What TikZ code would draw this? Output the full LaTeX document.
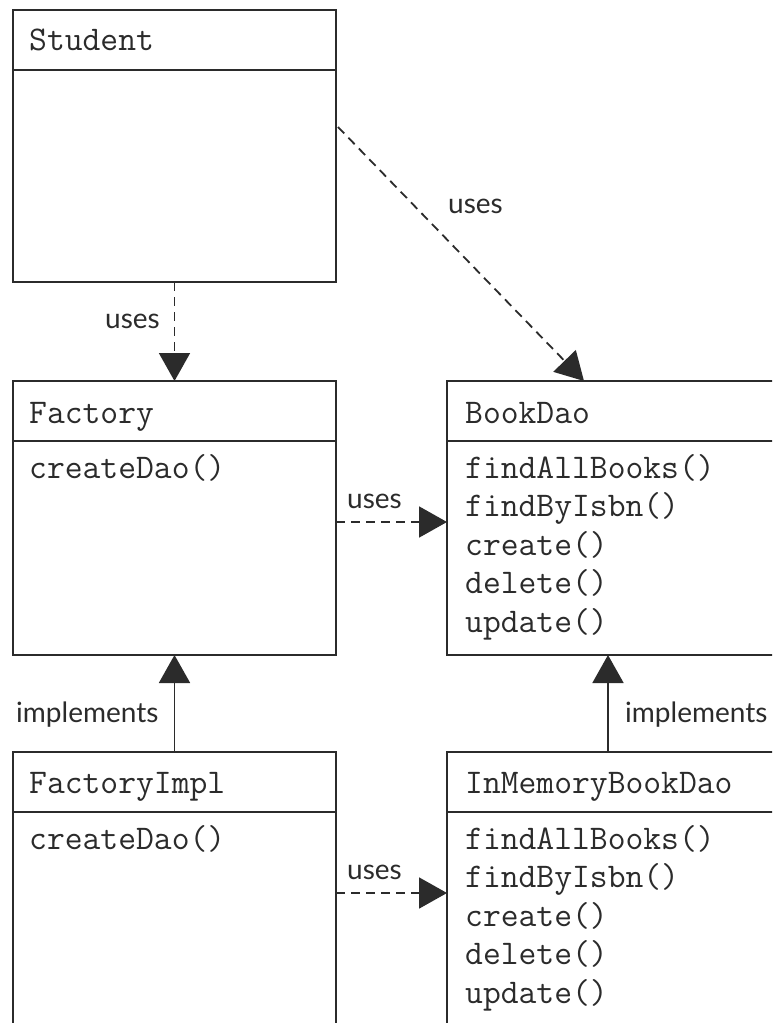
\documentclass[tikz,border=0pt]{standalone}
\usepackage{fontspec}
\newfontfamily\labelfont{Lato}
\usetikzlibrary{arrows.meta,calc}
\definecolor{ink}{HTML}{2B2B2B}
\begin{document}
\begin{tikzpicture}[x=1pt,y=-1pt,
  box/.style={draw=ink,line width=1.8pt,rectangle,inner sep=0pt,outer sep=0pt,anchor=north west},
  divider/.style={draw=ink,line width=1.8pt},
  code/.style={font=\ttfamily\fontsize{34.6}{38}\selectfont,text=ink,anchor=base west,inner sep=0pt},
  lbl/.style={font=\labelfont\fontsize{28}{32}\selectfont,text=ink,anchor=base west,inner sep=0pt},
  dep/.style={draw=ink,line width=1.8pt,dash pattern=on 9pt off 6pt,-{Triangle[length=28pt,width=31pt]}},
  impl/.style={draw=ink,line width=1.8pt,-{Triangle[length=28pt,width=31pt]}}]
\useasboundingbox (0,0) rectangle (772,1023);
\fill[white] (0,0) rectangle (772,1023);
\begin{scope}
\clip (0,0) rectangle (772,1023);
% boxes
\node[box,minimum width=323pt,minimum height=272pt] (student) at (13,10) {};
\node[box,minimum width=323pt,minimum height=274pt] (factory) at (13,381) {};
\node[box,minimum width=360pt,minimum height=274pt] (bookdao) at (447,381) {};
\node[box,minimum width=323pt,minimum height=300pt] (factoryimpl) at (13,752) {};
\node[box,minimum width=360pt,minimum height=300pt] (imbd) at (447,752) {};
% dividers
\draw[divider] ($(student.north west)+(0,60)$) -- ($(student.north east)+(0,60)$);
\draw[divider] ($(factory.north west)+(0,60)$) -- ($(factory.north east)+(0,60)$);
\draw[divider] ($(bookdao.north west)+(0,60)$) -- ($(bookdao.north east)+(0,60)$);
\draw[divider] ($(factoryimpl.north west)+(0,60)$) -- ($(factoryimpl.north east)+(0,60)$);
\draw[divider] ($(imbd.north west)+(0,60)$) -- ($(imbd.north east)+(0,60)$);
% headers
\node[code] (tstudent) at (29,50) {Student};
\node[code] (tfactory) at (29,423) {Factory};
\node[code] (tbookdao) at (465,423) {BookDao};
\node[code] (tfactoryimpl) at (29,793) {FactoryImpl};
\node[code] (timbd) at (465,793) {InMemoryBookDao};
% methods
\node[code] (fcreate) at (29,478) {createDao()};
\node[code] (ficreate) at (29,849) {createDao()};
\foreach \m [count=\i from 0] in {findAllBooks(),findByIsbn(),create(),delete(),update()} {
  \node[code] (bm\i) at (465,478+38.5*\i) {\m};
  \node[code] (im\i) at (465,849+38.5*\i) {\m};
}
% connector helper coordinates
\coordinate (dstart) at (338,127);
\coordinate (dend) at (584,381);
\coordinate (hy1) at (0,522);
\coordinate (hy2) at (0,893);
\coordinate (rx) at (608,0);
% connectors
\draw[dep] (student.south) -- (factory.north);
\draw[dep] (dstart) -- (dend);
\draw[dep] (factory.east |- hy1) -- (bookdao.west |- hy1);
\draw[dep] (factoryimpl.east |- hy2) -- (imbd.west |- hy2);
\draw[impl] (factoryimpl.north) -- (factory.south);
\draw[impl] (imbd.north -| rx) -- (bookdao.south -| rx);
% labels
\node[lbl] (l1) at (105,328) {uses};
\node[lbl] (l2) at (448,213) {uses};
\node[lbl] (l3) at (347,508) {uses};
\node[lbl] (l4) at (347,879) {uses};
\node[lbl] (l5) at (16,722) {implements};
\node[lbl] (l6) at (625,722) {implements};
\end{scope}
\end{tikzpicture}
\end{document}
